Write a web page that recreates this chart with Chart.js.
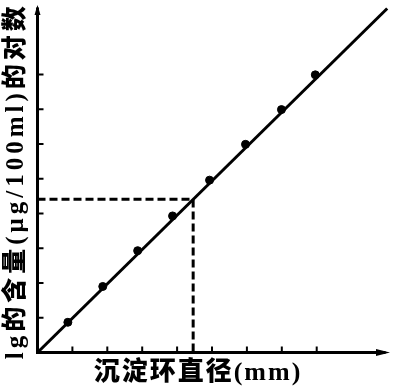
<!DOCTYPE html>
<html>
<head>
<meta charset="utf-8">
<script src="https://cdn.jsdelivr.net/npm/chart.js@4.4.0/dist/chart.umd.min.js"></script>
<style>
    body { margin: 0; background: #ffffff; }
    #wrap { width: 417px; height: 392px; }
</style>
</head>
<body>
<div id="wrap"><canvas id="myChart"></canvas></div>
<script>
// Measured points (ring diameter vs log of content)
var diameters = [0.87, 1.87, 2.87, 3.87, 4.93, 5.96, 6.99, 7.96];
var logContent = [0.87, 1.9, 2.93, 3.93, 4.96, 5.99, 6.99, 7.99];

// Ends of the fitted straight line
var lineX = [0, 10.02];
var lineY = [0, 9.9];

// Read-off guide: unknown sample
var guideX = [0, 4.46, 4.46];
var guideY = [4.41, 4.41, 0];

// Tick marks on both axes (no labels in the original)
var xTicks = [1, 2, 3, 4, 5, 6, 7, 8];
var yTicks = [1, 2, 3, 4, 5, 6, 7, 8];

// Axis titles
var xTitle = "沉淀环直径(mm)";
var yTitle = "lg的含量(μg/100ml)的对数";

function toPoints(xs, ys) {
    return xs.map(function (x, i) { return { x: x, y: ys[i] }; });
}

// Draws the axes with arrows, inward ticks and the titles
var axesPlugin = {
    id: "axesPlugin",
    afterDatasetsDraw: function (chart) {
        var ctx = chart.ctx;
        var xs = chart.scales.x;
        var ys = chart.scales.y;
        var x0 = xs.getPixelForValue(0);
        var y0 = ys.getPixelForValue(0);
        var xEnd = xs.getPixelForValue(xs.max);
        var yEnd = ys.getPixelForValue(ys.max);

        ctx.save();
        ctx.strokeStyle = "#000";
        ctx.fillStyle = "#000";
        ctx.lineWidth = 3;
        ctx.lineCap = "square";

        // axis lines
        ctx.beginPath();
        ctx.moveTo(x0, yEnd + 4);
        ctx.lineTo(x0, y0);
        ctx.lineTo(xEnd - 6, y0);
        ctx.stroke();

        // arrow heads
        ctx.beginPath();
        ctx.moveTo(xEnd, y0);
        ctx.lineTo(xEnd - 14, y0 - 3.5);
        ctx.lineTo(xEnd - 14, y0 + 3.5);
        ctx.closePath();
        ctx.fill();
        ctx.beginPath();
        ctx.moveTo(x0, yEnd);
        ctx.lineTo(x0 - 3, yEnd + 10);
        ctx.lineTo(x0 + 3, yEnd + 10);
        ctx.closePath();
        ctx.fill();

        // inward ticks
        ctx.lineWidth = 2;
        ctx.lineCap = "butt";
        ctx.beginPath();
        xTicks.forEach(function (t) {
            var px = xs.getPixelForValue(t);
            ctx.moveTo(px, y0);
            ctx.lineTo(px, y0 - 6);
        });
        yTicks.forEach(function (t) {
            var py = ys.getPixelForValue(t);
            ctx.moveTo(x0, py);
            ctx.lineTo(x0 + 6, py);
        });
        ctx.stroke();

        // titles
        ctx.textAlign = "center";
        ctx.textBaseline = "middle";
        ctx.font = "900 26px 'Liberation Serif', 'Noto Sans CJK SC'";
        ctx.letterSpacing = "2px";
        ctx.fillText(xTitle, 198, y0 + 21);

        ctx.font = "900 25px 'Liberation Serif', 'Noto Sans CJK SC'";
        ctx.letterSpacing = "4px";
        ctx.translate(17, (yEnd + y0) / 2 + 2);
        ctx.rotate(-Math.PI / 2);
        ctx.fillText(yTitle, 0, 0);
        ctx.restore();
    }
};

new Chart("myChart", {
    type: "scatter",
    data: {
        datasets: [
            {
                // fitted line
                data: toPoints(lineX, lineY),
                showLine: true,
                borderColor: "#000",
                borderWidth: 3,
                pointRadius: 0
            },
            {
                // dashed read-off guide
                data: toPoints(guideX, guideY),
                showLine: true,
                borderColor: "#000",
                borderWidth: 3,
                borderDash: [8, 4],
                pointRadius: 0
            },
            {
                // measured points
                data: toPoints(diameters, logContent),
                showLine: false,
                pointRadius: 4,
                pointBackgroundColor: "#000",
                pointBorderColor: "#000"
            }
        ]
    },
    options: {
        responsive: true,
        maintainAspectRatio: false,
        animation: false,
        layout: { padding: { left: 37.5, right: 27, top: 2, bottom: 39.5 } },
        plugins: {
            legend: { display: false },
            tooltip: { enabled: false }
        },
        scales: {
            x: { type: "linear", min: 0, max: 10.1, display: false },
            y: { type: "linear", min: 0, max: 10, display: false }
        }
    },
    plugins: [axesPlugin]
});
</script>
</body>
</html>
